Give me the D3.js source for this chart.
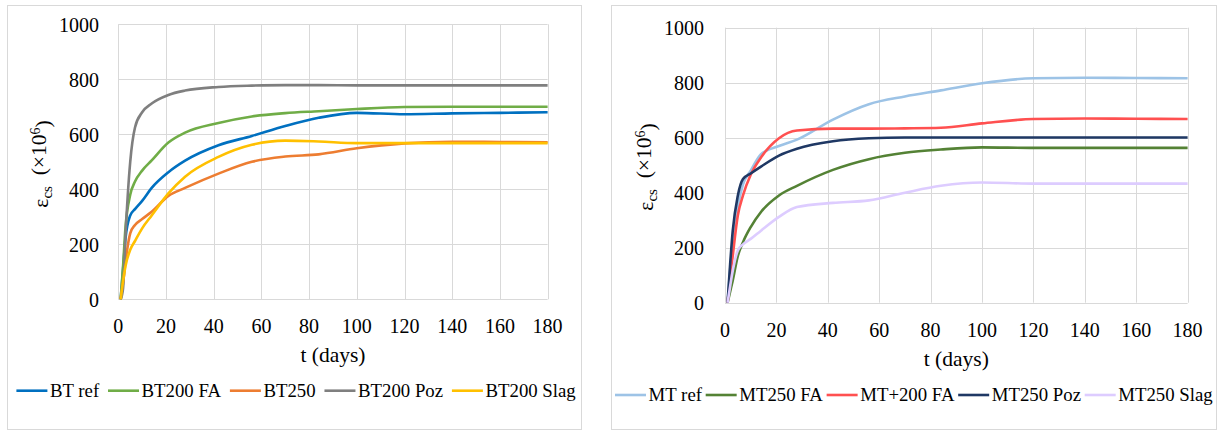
<html>
<head>
    <meta http-equiv="Content-Type" content="text/html;charset=UTF-8">
    <title>Shrinkage</title>
    <style type="text/css">
        *{margin: 0;padding: 0;}
        body{background: #fff;}
        svg{display: block;}
        text{font-family: "Liberation Serif", "Times New Roman", serif; fill: #000;}
    </style>
</head>
<body>
    <div class="container"></div>
    <script type="text/javascript" src="https://cdn.jsdelivr.net/npm/d3@7/dist/d3.min.js"></script>
    <script>
        // days of measurement (shared by both panels)
        var days = [1, 2, 3, 5, 7, 10, 14, 21, 28, 42, 56, 70, 84, 100, 120, 140, 160, 180];
        var xTicks = [0, 20, 40, 60, 80, 100, 120, 140, 160, 180];
        var yTicks = [0, 200, 400, 600, 800, 1000];

        // left panel series
        var btNames = ["BT ref", "BT200 FA", "BT250", "BT200 Poz", "BT200 Slag"];
        var btColors = ["#0070C0", "#70AD47", "#ED7D31", "#7F7F7F", "#FFC000"];
        var btRef     = [0, 110, 220, 305, 328, 358, 405, 462, 504, 560, 594, 630, 660, 678, 673, 676, 678, 680];
        var bt200FA   = [0, 120, 260, 380, 428, 468, 505, 570, 606, 641, 665, 677, 684, 692, 699, 700, 700, 700];
        var bt250     = [0, 60, 135, 240, 270, 292, 318, 376, 405, 457, 500, 519, 527, 549, 567, 573, 572, 571];
        var bt200Poz  = [0, 40, 230, 500, 625, 680, 712, 743, 759, 772, 777, 779, 779, 778, 778, 778, 778, 778];
        var bt200Slag = [0, 65, 120, 180, 212, 258, 305, 385, 446, 518, 562, 577, 574, 568, 568, 568, 568, 568];

        // right panel series
        var mtNames = ["MT ref", "MT250 FA", "MT+200 FA", "MT250 Poz", "MT250 Slag"];
        var mtColors = ["#9DC3E6", "#548235", "#FF5050", "#1F3864", "#DDCCFF"];
        var mtRef     = [0, 120, 220, 350, 430, 480, 540, 570, 593, 666, 722, 750, 772, 798, 816, 818, 817, 816];
        var mt250FA   = [0, 40, 80, 170, 220, 275, 330, 390, 425, 483, 522, 545, 557, 565, 563, 563, 563, 563];
        var mt200FA   = [0, 90, 170, 318, 390, 465, 528, 598, 626, 633, 633, 634, 636, 652, 668, 670, 669, 668];
        var mt250Poz  = [0, 140, 260, 390, 450, 470, 495, 535, 560, 587, 598, 601, 601, 601, 601, 601, 601, 601];
        var mt250Slag = [0, 60, 115, 190, 212, 232, 262, 312, 348, 363, 372, 400, 425, 437, 433, 433, 433, 433];

        var width = 1221, height = 430;

        var svg = d3.select(".container")
            .append("svg")
            .attr("width", width)
            .attr("height", height);

        var panels = [
            {box: [7, 5, 581, 429], plot: [118.3, 24.3, 547.6, 299.3], yLabX: 99, xLabDy: 34,
             titleX: 48, titleY: 164, xTitleY: 362, legX: 16.4, legY: 390.7, legGap: 8.8,
             names: btNames, colors: btColors, series: [btRef, bt200FA, bt250, bt200Poz, bt200Slag]},
            {box: [611, 5, 1216, 429], plot: [725, 27.7, 1187.6, 302.7], yLabX: 704, xLabDy: 34,
             titleX: 653, titleY: 167, xTitleY: 365.5, legX: 615, legY: 395, legGap: 3.7,
             names: mtNames, colors: mtColors, series: [mtRef, mt250FA, mt200FA, mt250Poz, mt250Slag]}
        ];

        panels.forEach(function (p) {
            var g = svg.append("g");

            // chart frame
            g.append("rect")
                .attr("x", p.box[0] + 0.5).attr("y", p.box[1] + 0.5)
                .attr("width", p.box[2] - p.box[0]).attr("height", p.box[3] - p.box[1])
                .attr("fill", "#fff").attr("stroke", "#D9D9D9");

            var x = d3.scaleLinear().domain([0, 180]).range([p.plot[0], p.plot[2]]);
            var y = d3.scaleLinear().domain([0, 1000]).range([p.plot[3], p.plot[1]]);

            // grid
            g.selectAll(".vg").data(xTicks).enter().append("line")
                .attr("x1", function (d) { return Math.round(x(d)) + 0.5; })
                .attr("x2", function (d) { return Math.round(x(d)) + 0.5; })
                .attr("y1", p.plot[1]).attr("y2", p.plot[3])
                .attr("stroke", "#D9D9D9");
            g.selectAll(".hg").data(yTicks).enter().append("line")
                .attr("y1", function (d) { return Math.round(y(d)) + 0.5; })
                .attr("y2", function (d) { return Math.round(y(d)) + 0.5; })
                .attr("x1", p.plot[0]).attr("x2", p.plot[2])
                .attr("stroke", "#D9D9D9");

            // tick labels
            g.selectAll(".yl").data(yTicks).enter().append("text")
                .attr("x", p.yLabX)
                .attr("y", function (d) { return y(d) + 7.3; })
                .attr("text-anchor", "end")
                .style("font-size", "20px")
                .text(function (d) { return d; });
            g.selectAll(".xl").data(xTicks).enter().append("text")
                .attr("x", function (d) { return x(d); })
                .attr("y", p.plot[3] + p.xLabDy)
                .attr("text-anchor", "middle")
                .style("font-size", "20px")
                .text(function (d) { return d; });

            // axis titles
            g.append("text")
                .attr("x", (p.plot[0] + p.plot[2]) / 2)
                .attr("y", p.xTitleY)
                .attr("text-anchor", "middle")
                .style("font-size", "21.5px")
                .text("t (days)");

            var yt = g.append("text")
                .attr("transform", "translate(" + p.titleX + "," + p.titleY + ") rotate(-90)")
                .attr("text-anchor", "middle")
                .style("font-size", "21.5px");
            yt.append("tspan").text("ε");
            yt.append("tspan").attr("dy", "0.28em").style("font-size", "15px").text("cs");
            yt.append("tspan").attr("dy", "-0.28em").text("\u00a0 (×10");
            yt.append("tspan").attr("dy", "-0.45em").style("font-size", "14px").text("6");
            yt.append("tspan").attr("dy", "0.45em").text(")");

            // curves
            var line = d3.line()
                .x(function (d) { return x(d[0]); })
                .y(function (d) { return y(d[1]); })
                .curve(d3.curveMonotoneX);

            p.series.forEach(function (s, i) {
                g.append("path")
                    .datum(days.map(function (t, k) { return [t, s[k]]; }))
                    .attr("d", line)
                    .attr("fill", "none")
                    .attr("stroke", p.colors[i])
                    .attr("stroke-width", 2.6)
                    .attr("stroke-linejoin", "round");
            });

            // legend
            var lx = p.legX;
            p.names.forEach(function (n, i) {
                g.append("line")
                    .attr("x1", lx).attr("x2", lx + 31)
                    .attr("y1", p.legY).attr("y2", p.legY)
                    .attr("stroke", p.colors[i]).attr("stroke-width", 2.6);
                var t = g.append("text")
                    .attr("x", lx + 33.6)
                    .attr("y", p.legY + 6.4)
                    .style("font-size", "18.8px")
                    .text(n);
                lx += 33.6 + t.node().getComputedTextLength() + p.legGap;
            });
        });
    </script>
</body>
</html>
